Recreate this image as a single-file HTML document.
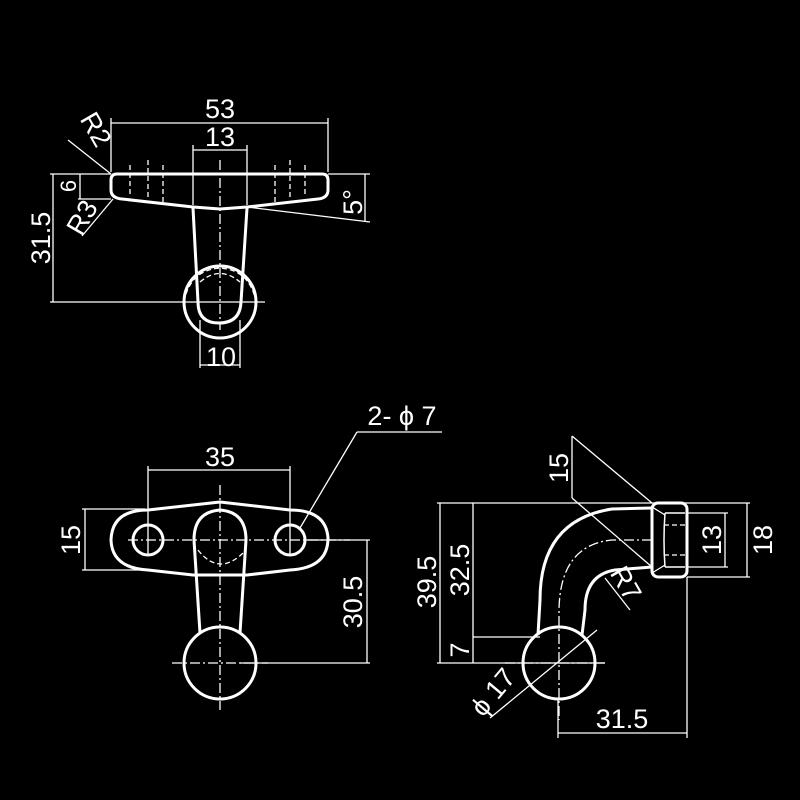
<!DOCTYPE html>
<html><head><meta charset="utf-8"><style>html,body{margin:0;padding:0;background:#000}svg{display:block}</style></head>
<body>
<svg width="800" height="800" viewBox="0 0 800 800" xmlns="http://www.w3.org/2000/svg" font-family="Liberation Sans, DejaVu Sans, sans-serif" fill="none">
<rect width="800" height="800" fill="#000"/>
<g stroke="#fff" stroke-width="3" stroke-linejoin="round">
<path d="M117,174 L322,174 Q328,174 328,180 L328,190 Q328,198 318,199 L247,207 L220,209 L193,207 L122,199 Q111,198 111,190 L111,180 Q111,174 117,174 Z"/>
<path d="M193,208 L198,302 Q198,323 219,323 Q240,323 241,302 L247,208"/>
<circle cx="220" cy="302" r="36"/>
<path d="M148,510 L220,502 L290,510 Q326,510 328,538 Q328,568 290,570 L247,575 L193,575 L148,570 Q112,568 111,540 Q112,510 148,510 Z"/>
<circle cx="148" cy="540" r="15"/>
<circle cx="290" cy="540" r="15"/>
<path d="M200,633 L194,540 Q194,512 220,510 Q246,512 246,540 L240,633"/>
<circle cx="220" cy="663" r="36"/>
<rect x="652" y="503" width="35" height="74" rx="6"/>
<path d="M652,508 L612,509 Q540,520 540,600 L538,635"/>
<path d="M652,567 L615,570 Q585,575 585,610 L582,635"/>
<circle cx="559" cy="663" r="36"/>
</g>
<g stroke="#fff" stroke-width="1.3">
<path d="M665,513 Q663,540 665,567 M665,513 L685,513 M665,567 L685,567" stroke-width="1.5"/>
<line x1="652" y1="507" x2="665" y2="515"/><line x1="652" y1="573" x2="665" y2="565"/>
<line x1="664" y1="525" x2="686" y2="525" stroke-dasharray="5,3"/>
<line x1="664" y1="555" x2="686" y2="555" stroke-dasharray="5,3"/>
<line x1="111" y1="123" x2="328" y2="123"/><line x1="111" y1="118" x2="111" y2="172"/><line x1="328" y1="118" x2="328" y2="172"/>
<line x1="193" y1="150" x2="247" y2="150"/><line x1="193" y1="145" x2="193" y2="205"/><line x1="247" y1="145" x2="247" y2="205"/>
<line x1="53" y1="174" x2="53" y2="302"/><line x1="50" y1="174" x2="111" y2="174"/><line x1="50" y1="302" x2="265" y2="302"/>
<line x1="80" y1="174" x2="80" y2="199"/><line x1="78" y1="199" x2="111" y2="199"/>
<line x1="68" y1="140" x2="111" y2="174"/><line x1="82" y1="236" x2="113" y2="199"/>
<line x1="328" y1="174" x2="370" y2="174"/><line x1="247" y1="207" x2="370" y2="222"/><line x1="365" y1="174" x2="365" y2="222"/>
<line x1="200" y1="320" x2="200" y2="368"/><line x1="240" y1="320" x2="240" y2="368"/><line x1="200" y1="365" x2="240" y2="365"/>
<g stroke-dasharray="10,3,2,3"><line x1="220" y1="160" x2="220" y2="330"/></g>
<g stroke-dasharray="5,3"><line x1="130" y1="165" x2="130" y2="195"/><line x1="148" y1="160" x2="148" y2="200"/><line x1="163" y1="165" x2="163" y2="202"/><line x1="275" y1="165" x2="275" y2="202"/><line x1="290" y1="160" x2="290" y2="200"/><line x1="305" y1="165" x2="305" y2="195"/>
<path d="M200,282 Q220,265 240,282"/><path d="M184,302 Q190,270 220,268 Q250,270 256,302"/></g>
<line x1="148" y1="470" x2="290" y2="470"/><line x1="148" y1="466" x2="148" y2="556"/><line x1="290" y1="466" x2="290" y2="556"/>
<line x1="85" y1="509" x2="85" y2="570"/><line x1="82" y1="509" x2="145" y2="509"/><line x1="82" y1="570" x2="145" y2="570"/>
<line x1="367" y1="540" x2="367" y2="663"/><line x1="305" y1="540" x2="370" y2="540"/><line x1="240" y1="663" x2="370" y2="663"/>
<line x1="300" y1="528" x2="357" y2="432"/><line x1="357" y1="432" x2="442" y2="432"/>
<g stroke-dasharray="10,3,2,3"><line x1="220" y1="485" x2="220" y2="710"/><line x1="128" y1="540" x2="350" y2="540"/><line x1="172" y1="663" x2="268" y2="663"/></g>
<path d="M198,550 Q220,578 246,550" stroke-dasharray="5,3"/>
<line x1="193" y1="575" x2="247" y2="575" stroke-dasharray="5,3"/>
<line x1="440" y1="503" x2="440" y2="663"/><line x1="473" y1="503" x2="473" y2="663"/>
<line x1="437" y1="503" x2="750" y2="503"/><line x1="437" y1="663" x2="605" y2="663"/><line x1="473" y1="637" x2="540" y2="637"/>
<line x1="725" y1="513" x2="725" y2="567"/><line x1="687" y1="513" x2="728" y2="513"/><line x1="687" y1="567" x2="728" y2="567"/>
<line x1="747" y1="503" x2="747" y2="577"/><line x1="687" y1="577" x2="750" y2="577"/>
<line x1="558" y1="733" x2="687" y2="733"/><line x1="558" y1="700" x2="558" y2="738"/><line x1="687" y1="577" x2="687" y2="738"/>
<line x1="572" y1="436" x2="572" y2="498"/><line x1="572" y1="436" x2="652" y2="503"/><line x1="572" y1="498" x2="652" y2="567"/>
<line x1="605" y1="578" x2="630" y2="610"/>
<line x1="490" y1="718" x2="597" y2="630"/>
<g stroke-dasharray="10,3,2,3"><path d="M652,540 L612,540 Q560,545 559,610 L559,720"/><line x1="505" y1="663" x2="605" y2="663"/></g>
</g>
<g fill="#fff" font-size="27">
<text x="220" y="118" text-anchor="middle">53</text>
<text x="220" y="146" text-anchor="middle">13</text>
<text x="221" y="366" text-anchor="middle">10</text>
<text transform="translate(50,238) rotate(-90)" text-anchor="middle">31.5</text>
<text transform="translate(76,186) rotate(-90)" text-anchor="middle" font-size="22">6</text>
<text transform="translate(88,134) rotate(60)" text-anchor="middle">R2</text>
<text transform="translate(90,222) rotate(-60)" text-anchor="middle">R3</text>
<text transform="translate(362,202) rotate(-90)" text-anchor="middle">5°</text>
<text x="220" y="466" text-anchor="middle">35</text>
<text x="402" y="425" text-anchor="middle">2- ϕ 7</text>
<text transform="translate(80,540) rotate(-90)" text-anchor="middle">15</text>
<text transform="translate(362,602) rotate(-90)" text-anchor="middle">30.5</text>
<text transform="translate(436,582) rotate(-90)" text-anchor="middle">39.5</text>
<text transform="translate(469,570) rotate(-90)" text-anchor="middle">32.5</text>
<text transform="translate(469,650) rotate(-90)" text-anchor="middle">7</text>
<text transform="translate(568,468) rotate(-90)" text-anchor="middle">15</text>
<text transform="translate(721,540) rotate(-90)" text-anchor="middle">13</text>
<text transform="translate(772,540) rotate(-90)" text-anchor="middle">18</text>
<text x="622" y="728" text-anchor="middle">31.5</text>
<text transform="translate(618,588) rotate(60)" text-anchor="middle">R7</text>
<text transform="translate(500,698) rotate(-50)" text-anchor="middle">ϕ 17</text>
</g>
</svg>
</body></html>
